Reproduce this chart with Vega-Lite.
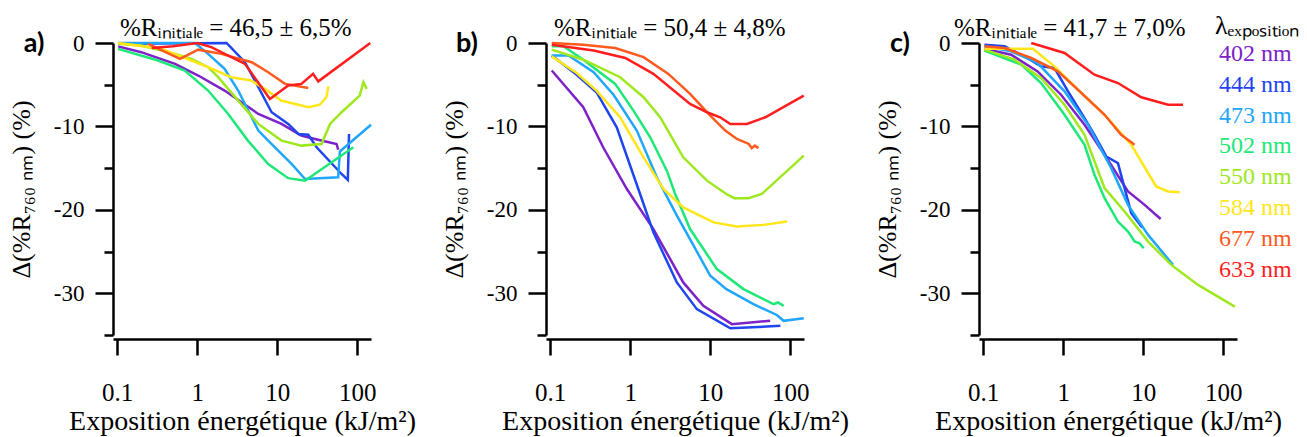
{
  "$schema": "https://vega.github.io/schema/vega-lite/v6.json",
  "background": "white",
  "padding": {"left": 8, "top": 13, "right": 0, "bottom": 0},
  "config": {
    "view": {"stroke": null},
    "font": "Liberation Serif",
    "axis": {"domainColor": "black", "domainWidth": 2.5, "tickColor": "black", "tickWidth": 2.5, "labelColor": "black", "titleColor": "black", "labelFont": "Liberation Serif", "titleFont": "Liberation Serif", "titleFontWeight": "normal", "grid": false},
    "title": {"font": "Liberation Serif", "fontSize": 25, "fontWeight": "normal", "color": "black", "anchor": "start", "frame": "group", "baseline": "alphabetic", "offset": -11},
    "legend": {"orient": "none", "legendX": 1102, "legendY": -30, "titleFont": "Liberation Serif", "titleFontSize": 26, "titleFontWeight": "normal", "titleColor": "black", "titlePadding": 3, "labelFont": "Liberation Serif", "labelFontSize": 24, "symbolSize": 0, "symbolOpacity": 0, "symbolStrokeWidth": 0, "labelOffset": -20, "rowPadding": 6.8, "padding": 0}
  },
  "datasets": {
    "labels": [{"p": "a", "lab": "a)"}, {"p": "b", "lab": "b)"}, {"p": "c", "lab": "c)"}],
    "curves": [
      {"p":"a","w":"402 nm","x":0.103,"y":-0.4},{"p":"a","w":"402 nm","x":0.2,"y":-1.1},{"p":"a","w":"402 nm","x":0.53,"y":-2.5},{"p":"a","w":"402 nm","x":1.03,"y":-3.9},{"p":"a","w":"402 nm","x":2.2,"y":-5.7},{"p":"a","w":"402 nm","x":5.8,"y":-8.5},{"p":"a","w":"402 nm","x":11.3,"y":-9.7},{"p":"a","w":"402 nm","x":20,"y":-11.1},{"p":"a","w":"402 nm","x":29.5,"y":-11.5},{"p":"a","w":"402 nm","x":55,"y":-12.1},{"p":"a","w":"402 nm","x":57.6,"y":-12.8},
      {"p":"a","w":"444 nm","x":0.103,"y":-0.1},{"p":"a","w":"444 nm","x":2.33,"y":0},{"p":"a","w":"444 nm","x":3.95,"y":-2.3},{"p":"a","w":"444 nm","x":5.25,"y":-4.5},{"p":"a","w":"444 nm","x":8.5,"y":-8.3},{"p":"a","w":"444 nm","x":13.7,"y":-9.7},{"p":"a","w":"444 nm","x":18.3,"y":-10.9},{"p":"a","w":"444 nm","x":24.4,"y":-11},{"p":"a","w":"444 nm","x":31,"y":-12.5},{"p":"a","w":"444 nm","x":63.5,"y":-15.7},{"p":"a","w":"444 nm","x":76,"y":-16.4},{"p":"a","w":"444 nm","x":78.7,"y":-10.9},
      {"p":"a","w":"473 nm","x":0.103,"y":0},{"p":"a","w":"473 nm","x":0.94,"y":0},{"p":"a","w":"473 nm","x":1.37,"y":-1.3},{"p":"a","w":"473 nm","x":2.2,"y":-3.1},{"p":"a","w":"473 nm","x":3.25,"y":-5.7},{"p":"a","w":"473 nm","x":5.8,"y":-10.5},{"p":"a","w":"473 nm","x":9.35,"y":-12.5},{"p":"a","w":"473 nm","x":15.1,"y":-14.5},{"p":"a","w":"473 nm","x":22.2,"y":-16.3},{"p":"a","w":"473 nm","x":57.6,"y":-16.1},{"p":"a","w":"473 nm","x":60.5,"y":-13},{"p":"a","w":"473 nm","x":148,"y":-9.8},
      {"p":"a","w":"502 nm","x":0.103,"y":-0.7},{"p":"a","w":"502 nm","x":0.325,"y":-2.1},{"p":"a","w":"502 nm","x":0.7,"y":-3.3},{"p":"a","w":"502 nm","x":1.37,"y":-5.7},{"p":"a","w":"502 nm","x":2.44,"y":-8.5},{"p":"a","w":"502 nm","x":4.3,"y":-11.7},{"p":"a","w":"502 nm","x":7.7,"y":-14.5},{"p":"a","w":"502 nm","x":13.7,"y":-16.2},{"p":"a","w":"502 nm","x":22.2,"y":-16.5},{"p":"a","w":"502 nm","x":89,"y":-12.5},
      {"p":"a","w":"550 nm","x":0.103,"y":-0.1},{"p":"a","w":"550 nm","x":0.2,"y":-0.3},{"p":"a","w":"550 nm","x":0.53,"y":-1.3},{"p":"a","w":"550 nm","x":0.85,"y":-1.9},{"p":"a","w":"550 nm","x":1.37,"y":-2.9},{"p":"a","w":"550 nm","x":1.83,"y":-4.1},{"p":"a","w":"550 nm","x":3.25,"y":-6.9},{"p":"a","w":"550 nm","x":5.8,"y":-9.7},{"p":"a","w":"550 nm","x":11.3,"y":-11.7},{"p":"a","w":"550 nm","x":20,"y":-12.3},{"p":"a","w":"550 nm","x":35.7,"y":-12.1},{"p":"a","w":"550 nm","x":45.6,"y":-9.7},{"p":"a","w":"550 nm","x":63.5,"y":-8.3},{"p":"a","w":"550 nm","x":107,"y":-6.3},{"p":"a","w":"550 nm","x":119,"y":-4.7},{"p":"a","w":"550 nm","x":131,"y":-5.5},
      {"p":"a","w":"584 nm","x":0.103,"y":0},{"p":"a","w":"584 nm","x":0.355,"y":-0.7},{"p":"a","w":"584 nm","x":0.58,"y":-1.5},{"p":"a","w":"584 nm","x":1.37,"y":-2.9},{"p":"a","w":"584 nm","x":2.66,"y":-4.1},{"p":"a","w":"584 nm","x":4.73,"y":-4.5},{"p":"a","w":"584 nm","x":7.0,"y":-5.5},{"p":"a","w":"584 nm","x":11.2,"y":-6.9},{"p":"a","w":"584 nm","x":24.4,"y":-7.7},{"p":"a","w":"584 nm","x":34,"y":-7.4},{"p":"a","w":"584 nm","x":41,"y":-6.5},{"p":"a","w":"584 nm","x":43.5,"y":-5.2},
      {"p":"a","w":"677 nm","x":0.245,"y":-0.1},{"p":"a","w":"677 nm","x":0.61,"y":-1.9},{"p":"a","w":"677 nm","x":1.03,"y":-0.8},{"p":"a","w":"677 nm","x":2.0,"y":-1.3},{"p":"a","w":"677 nm","x":4.8,"y":-2.3},{"p":"a","w":"677 nm","x":7.7,"y":-3.5},{"p":"a","w":"677 nm","x":12.5,"y":-4.9},{"p":"a","w":"677 nm","x":24.4,"y":-5.4},
      {"p":"a","w":"633 nm","x":0.27,"y":-0.6},{"p":"a","w":"633 nm","x":0.5,"y":-0.4},{"p":"a","w":"633 nm","x":1.0,"y":0},{"p":"a","w":"633 nm","x":1.5,"y":-0.5},{"p":"a","w":"633 nm","x":3.95,"y":-2.5},{"p":"a","w":"633 nm","x":8.1,"y":-6.7},{"p":"a","w":"633 nm","x":13.7,"y":-5.1},{"p":"a","w":"633 nm","x":20,"y":-4.9},{"p":"a","w":"633 nm","x":28,"y":-3.7},{"p":"a","w":"633 nm","x":32.5,"y":-4.6},{"p":"a","w":"633 nm","x":145,"y":0},

      {"p":"b","w":"402 nm","x":0.105,"y":-3.3},{"p":"b","w":"402 nm","x":0.26,"y":-7.7},{"p":"b","w":"402 nm","x":0.46,"y":-12.5},{"p":"b","w":"402 nm","x":0.91,"y":-17.5},{"p":"b","w":"402 nm","x":1.95,"y":-22.3},{"p":"b","w":"402 nm","x":4.6,"y":-28.7},{"p":"b","w":"402 nm","x":8.2,"y":-31.5},{"p":"b","w":"402 nm","x":18.6,"y":-33.7},{"p":"b","w":"402 nm","x":56,"y":-33.3},
      {"p":"b","w":"444 nm","x":0.105,"y":-1.5},{"p":"b","w":"444 nm","x":0.215,"y":-3.8},{"p":"b","w":"444 nm","x":0.38,"y":-5.9},{"p":"b","w":"444 nm","x":0.68,"y":-10.1},{"p":"b","w":"444 nm","x":1.33,"y":-18.1},{"p":"b","w":"444 nm","x":1.95,"y":-22.7},{"p":"b","w":"444 nm","x":3.83,"y":-28.7},{"p":"b","w":"444 nm","x":6.8,"y":-31.9},{"p":"b","w":"444 nm","x":17.8,"y":-34.2},{"p":"b","w":"444 nm","x":75,"y":-33.9},
      {"p":"b","w":"473 nm","x":0.105,"y":-1.5},{"p":"b","w":"473 nm","x":0.17,"y":-1.5},{"p":"b","w":"473 nm","x":0.35,"y":-3.5},{"p":"b","w":"473 nm","x":0.62,"y":-6.2},{"p":"b","w":"473 nm","x":1.21,"y":-10.5},{"p":"b","w":"473 nm","x":2.15,"y":-16.1},{"p":"b","w":"473 nm","x":3.83,"y":-20.7},{"p":"b","w":"473 nm","x":6.2,"y":-24.3},{"p":"b","w":"473 nm","x":10,"y":-27.9},{"p":"b","w":"473 nm","x":15.9,"y":-29.5},{"p":"b","w":"473 nm","x":34.6,"y":-31.3},{"p":"b","w":"473 nm","x":67.8,"y":-32.6},{"p":"b","w":"473 nm","x":82.5,"y":-33.3},{"p":"b","w":"473 nm","x":147,"y":-33.0},
      {"p":"b","w":"502 nm","x":0.105,"y":-0.4},{"p":"b","w":"502 nm","x":0.147,"y":-0.4},{"p":"b","w":"502 nm","x":0.26,"y":-2.0},{"p":"b","w":"502 nm","x":0.65,"y":-4.9},{"p":"b","w":"502 nm","x":1.1,"y":-8.1},{"p":"b","w":"502 nm","x":1.78,"y":-11.3},{"p":"b","w":"502 nm","x":2.87,"y":-15.3},{"p":"b","w":"502 nm","x":3.65,"y":-18.1},{"p":"b","w":"502 nm","x":5.6,"y":-22.3},{"p":"b","w":"502 nm","x":12.1,"y":-27.1},{"p":"b","w":"502 nm","x":26,"y":-29.5},{"p":"b","w":"502 nm","x":61.5,"y":-31.3},{"p":"b","w":"502 nm","x":70,"y":-31.1},{"p":"b","w":"502 nm","x":82.5,"y":-31.5},
      {"p":"b","w":"550 nm","x":0.105,"y":-0.8},{"p":"b","w":"550 nm","x":0.26,"y":-2.0},{"p":"b","w":"550 nm","x":0.75,"y":-4.1},{"p":"b","w":"550 nm","x":1.47,"y":-6.5},{"p":"b","w":"550 nm","x":2.37,"y":-8.9},{"p":"b","w":"550 nm","x":4.6,"y":-13.7},{"p":"b","w":"550 nm","x":9.1,"y":-16.5},{"p":"b","w":"550 nm","x":15.9,"y":-18.1},{"p":"b","w":"550 nm","x":20,"y":-18.6},{"p":"b","w":"550 nm","x":30,"y":-18.6},{"p":"b","w":"550 nm","x":44,"y":-18.1},{"p":"b","w":"550 nm","x":147,"y":-13.5},
      {"p":"b","w":"584 nm","x":0.105,"y":-1.6},{"p":"b","w":"584 nm","x":0.215,"y":-3.6},{"p":"b","w":"584 nm","x":0.38,"y":-5.7},{"p":"b","w":"584 nm","x":0.75,"y":-8.9},{"p":"b","w":"584 nm","x":1.47,"y":-13.7},{"p":"b","w":"584 nm","x":2.6,"y":-17.5},{"p":"b","w":"584 nm","x":4.6,"y":-19.7},{"p":"b","w":"584 nm","x":11,"y":-21.5},{"p":"b","w":"584 nm","x":21.5,"y":-22.0},{"p":"b","w":"584 nm","x":46.5,"y":-21.8},{"p":"b","w":"584 nm","x":91,"y":-21.4},
      {"p":"b","w":"677 nm","x":0.105,"y":0},{"p":"b","w":"677 nm","x":0.26,"y":-0.2},{"p":"b","w":"677 nm","x":0.65,"y":-0.6},{"p":"b","w":"677 nm","x":1.47,"y":-1.7},{"p":"b","w":"677 nm","x":3.0,"y":-3.7},{"p":"b","w":"677 nm","x":5.6,"y":-6.1},{"p":"b","w":"677 nm","x":10,"y":-8.7},{"p":"b","w":"677 nm","x":15.4,"y":-10.5},{"p":"b","w":"677 nm","x":21.5,"y":-11.5},{"p":"b","w":"677 nm","x":30.3,"y":-12.1},{"p":"b","w":"677 nm","x":33,"y":-12.6},{"p":"b","w":"677 nm","x":36,"y":-12.3},{"p":"b","w":"677 nm","x":40,"y":-12.6},
      {"p":"b","w":"633 nm","x":0.105,"y":-0.2},{"p":"b","w":"633 nm","x":0.35,"y":-0.9},{"p":"b","w":"633 nm","x":0.87,"y":-1.8},{"p":"b","w":"633 nm","x":1.95,"y":-3.7},{"p":"b","w":"633 nm","x":5.6,"y":-7.3},{"p":"b","w":"633 nm","x":9.1,"y":-8.3},{"p":"b","w":"633 nm","x":13.3,"y":-8.9},{"p":"b","w":"633 nm","x":17.8,"y":-9.7},{"p":"b","w":"633 nm","x":28.7,"y":-9.7},{"p":"b","w":"633 nm","x":48.7,"y":-8.9},{"p":"b","w":"633 nm","x":147,"y":-6.3},

      {"p":"c","w":"402 nm","x":0.104,"y":-0.7},{"p":"c","w":"402 nm","x":0.224,"y":-1.4},{"p":"c","w":"402 nm","x":0.48,"y":-3.4},{"p":"c","w":"402 nm","x":0.94,"y":-6.2},{"p":"c","w":"402 nm","x":1.85,"y":-9.8},{"p":"c","w":"402 nm","x":3.29,"y":-13.4},{"p":"c","w":"402 nm","x":6.45,"y":-17.8},{"p":"c","w":"402 nm","x":10.4,"y":-19.4},{"p":"c","w":"402 nm","x":16.5,"y":-21.1},
      {"p":"c","w":"444 nm","x":0.104,"y":-0.2},{"p":"c","w":"444 nm","x":0.185,"y":-0.4},{"p":"c","w":"444 nm","x":0.33,"y":-1.6},{"p":"c","w":"444 nm","x":0.53,"y":-2.8},{"p":"c","w":"444 nm","x":0.78,"y":-3.0},{"p":"c","w":"444 nm","x":1.15,"y":-5.8},{"p":"c","w":"444 nm","x":1.85,"y":-9.0},{"p":"c","w":"444 nm","x":2.46,"y":-11.0},{"p":"c","w":"444 nm","x":3.45,"y":-13.6},{"p":"c","w":"444 nm","x":4.83,"y":-14.4},{"p":"c","w":"444 nm","x":7.08,"y":-20.4},{"p":"c","w":"444 nm","x":9.7,"y":-22.1},
      {"p":"c","w":"473 nm","x":0.104,"y":-0.4},{"p":"c","w":"473 nm","x":0.224,"y":-1.0},{"p":"c","w":"473 nm","x":0.48,"y":-2.4},{"p":"c","w":"473 nm","x":1.04,"y":-5.8},{"p":"c","w":"473 nm","x":2.04,"y":-9.8},{"p":"c","w":"473 nm","x":3.98,"y":-15.0},{"p":"c","w":"473 nm","x":6.45,"y":-19.4},{"p":"c","w":"473 nm","x":11.5,"y":-23.0},{"p":"c","w":"473 nm","x":23.5,"y":-26.6},
      {"p":"c","w":"502 nm","x":0.104,"y":-0.9},{"p":"c","w":"502 nm","x":0.3,"y":-2.6},{"p":"c","w":"502 nm","x":0.53,"y":-4.8},{"p":"c","w":"502 nm","x":1.04,"y":-8.6},{"p":"c","w":"502 nm","x":1.85,"y":-12.2},{"p":"c","w":"502 nm","x":2.46,"y":-15.8},{"p":"c","w":"502 nm","x":3.29,"y":-18.6},{"p":"c","w":"502 nm","x":4.83,"y":-21.4},{"p":"c","w":"502 nm","x":6.45,"y":-22.6},{"p":"c","w":"502 nm","x":7.8,"y":-23.8},{"p":"c","w":"502 nm","x":9.0,"y":-24.0},{"p":"c","w":"502 nm","x":10.1,"y":-24.6},
      {"p":"c","w":"550 nm","x":0.104,"y":-0.8},{"p":"c","w":"550 nm","x":0.247,"y":-2.0},{"p":"c","w":"550 nm","x":0.53,"y":-4.2},{"p":"c","w":"550 nm","x":1.04,"y":-7.4},{"p":"c","w":"550 nm","x":1.85,"y":-11.0},{"p":"c","w":"550 nm","x":3.29,"y":-17.4},{"p":"c","w":"550 nm","x":5.85,"y":-20.2},{"p":"c","w":"550 nm","x":11.5,"y":-23.8},{"p":"c","w":"550 nm","x":22.4,"y":-26.6},{"p":"c","w":"550 nm","x":48.3,"y":-29.0},{"p":"c","w":"550 nm","x":139,"y":-31.6},
      {"p":"c","w":"584 nm","x":0.104,"y":-0.7},{"p":"c","w":"584 nm","x":0.42,"y":-0.7},{"p":"c","w":"584 nm","x":0.78,"y":-2.8},{"p":"c","w":"584 nm","x":1.53,"y":-5.6},{"p":"c","w":"584 nm","x":3.29,"y":-8.6},{"p":"c","w":"584 nm","x":7.08,"y":-12.2},{"p":"c","w":"584 nm","x":14.5,"y":-17.2},{"p":"c","w":"584 nm","x":20.4,"y":-17.8},{"p":"c","w":"584 nm","x":28.5,"y":-17.9},
      {"p":"c","w":"677 nm","x":0.104,"y":-0.4},{"p":"c","w":"677 nm","x":0.185,"y":-0.6},{"p":"c","w":"677 nm","x":0.4,"y":-1.8},{"p":"c","w":"677 nm","x":0.86,"y":-3.4},{"p":"c","w":"677 nm","x":1.53,"y":-5.6},{"p":"c","w":"677 nm","x":3.29,"y":-8.6},{"p":"c","w":"677 nm","x":5.3,"y":-11.0},{"p":"c","w":"677 nm","x":7.8,"y":-12.2},
      {"p":"c","w":"633 nm","x":0.4,"y":0},{"p":"c","w":"633 nm","x":1.04,"y":-1.2},{"p":"c","w":"633 nm","x":2.46,"y":-3.8},{"p":"c","w":"633 nm","x":4.83,"y":-4.8},{"p":"c","w":"633 nm","x":9.45,"y":-6.5},{"p":"c","w":"633 nm","x":20.4,"y":-7.4},{"p":"c","w":"633 nm","x":31.4,"y":-7.4}
    ]
  },
  "spacing": 175,
  "bounds": "flush",
  "hconcat": [
    {
      "width": 258, "height": 292,
      "title": {"text": "%Rᵢₙᵢₜᵢₐₗₑ = 46,5 ± 6,5%", "dx": 7},
      "layer": [
        {
          "data": {"name": "curves"},
          "transform": [{"filter": "datum.p === 'a'"}],
          "mark": {"type": "line", "strokeWidth": 2.5, "clip": false},
          "encoding": {
            "x": {"field": "x", "type": "quantitative", "scale": {"type": "log", "domain": [0.089, 148], "nice": false}, "axis": {"title": "Exposition énergétique (kJ/m²)", "values": [0.1, 1, 10, 100], "format": "~g", "offset": 4, "tickSize": 16, "labelFontSize": 25, "labelPadding": 25.5, "titleFontSize": 28, "titlePadding": 2}},
            "y": {"field": "y", "type": "quantitative", "scale": {"domain": [-35, 0], "nice": false, "zero": false}, "axis": {"title": "Δ(%R₇₆₀ ₙₘ) (%)", "values": [-35, -30, -25, -20, -15, -10, -5, 0], "labelExpr": "datum.value % 10 === 0 ? '' + datum.value : ''", "tickSize": {"condition": {"test": "datum.value % 10 === 0", "value": 18}, "value": 9}, "labelFontSize": 23, "labelPadding": 11, "titleFontSize": 26, "titlePadding": 19}},
            "color": {"field": "w", "type": "nominal", "scale": {"domain": ["402 nm", "444 nm", "473 nm", "502 nm", "550 nm", "584 nm", "677 nm", "633 nm"], "range": ["#7d22c8", "#1f45f0", "#20a6fa", "#1ee878", "#9ee81e", "#ffe619", "#ff5a1e", "#ff1e1e"]},
              "legend": {"title": "λₑₓₚₒₛᵢₜᵢₒₙ", "labelColor": {"expr": "datum.value === '402 nm' ? '#7d22c8' : datum.value === '444 nm' ? '#1f45f0' : datum.value === '473 nm' ? '#20a6fa' : datum.value === '502 nm' ? '#1ee878' : datum.value === '550 nm' ? '#9ee81e' : datum.value === '584 nm' ? '#ffe619' : datum.value === '677 nm' ? '#ff5a1e' : '#ff1e1e'"}}}
          }
        },
        {
          "data": {"name": "labels"},
          "transform": [{"filter": "datum.p === 'a'"}],
          "mark": {"type": "text", "font": "Lato", "fontWeight": "bold", "fontSize": 27, "align": "center", "baseline": "alphabetic", "dx": -83, "dy": 9, "color": "black"},
          "encoding": {"x": {"datum": 0.1, "type": "quantitative"}, "y": {"datum": 0, "type": "quantitative"}, "text": {"field": "lab"}}
        }
      ]
    },
    {
      "width": 258, "height": 292,
      "title": {"text": "%Rᵢₙᵢₜᵢₐₗₑ = 50,4 ± 4,8%", "dx": 8},
      "layer": [
        {
          "data": {"name": "curves"},
          "transform": [{"filter": "datum.p === 'b'"}],
          "mark": {"type": "line", "strokeWidth": 2.5, "clip": false},
          "encoding": {
            "x": {"field": "x", "type": "quantitative", "scale": {"type": "log", "domain": [0.089, 148], "nice": false}, "axis": {"title": "Exposition énergétique (kJ/m²)", "values": [0.1, 1, 10, 100], "format": "~g", "offset": 4, "tickSize": 16, "labelFontSize": 25, "labelPadding": 25.5, "titleFontSize": 28, "titlePadding": 2}},
            "y": {"field": "y", "type": "quantitative", "scale": {"domain": [-35, 0], "nice": false, "zero": false}, "axis": {"title": "Δ(%R₇₆₀ ₙₘ) (%)", "values": [-35, -30, -25, -20, -15, -10, -5, 0], "labelExpr": "datum.value % 10 === 0 ? '' + datum.value : ''", "tickSize": {"condition": {"test": "datum.value % 10 === 0", "value": 18}, "value": 9}, "labelFontSize": 23, "labelPadding": 11, "titleFontSize": 26, "titlePadding": 19}},
            "color": {"field": "w", "type": "nominal", "scale": {"domain": ["402 nm", "444 nm", "473 nm", "502 nm", "550 nm", "584 nm", "677 nm", "633 nm"], "range": ["#7d22c8", "#1f45f0", "#20a6fa", "#1ee878", "#9ee81e", "#ffe619", "#ff5a1e", "#ff1e1e"]},
              "legend": {"title": "λₑₓₚₒₛᵢₜᵢₒₙ", "labelColor": {"expr": "datum.value === '402 nm' ? '#7d22c8' : datum.value === '444 nm' ? '#1f45f0' : datum.value === '473 nm' ? '#20a6fa' : datum.value === '502 nm' ? '#1ee878' : datum.value === '550 nm' ? '#9ee81e' : datum.value === '584 nm' ? '#ffe619' : datum.value === '677 nm' ? '#ff5a1e' : '#ff1e1e'"}}}
          }
        },
        {
          "data": {"name": "labels"},
          "transform": [{"filter": "datum.p === 'b'"}],
          "mark": {"type": "text", "font": "Lato", "fontWeight": "bold", "fontSize": 27, "align": "center", "baseline": "alphabetic", "dx": -83, "dy": 9, "color": "black"},
          "encoding": {"x": {"datum": 0.1, "type": "quantitative"}, "y": {"datum": 0, "type": "quantitative"}, "text": {"field": "lab"}}
        }
      ]
    },
    {
      "width": 258, "height": 292,
      "title": {"text": "%Rᵢₙᵢₜᵢₐₗₑ = 41,7 ± 7,0%", "dx": -25},
      "layer": [
        {
          "data": {"name": "curves"},
          "transform": [{"filter": "datum.p === 'c'"}],
          "mark": {"type": "line", "strokeWidth": 2.5, "clip": false},
          "encoding": {
            "x": {"field": "x", "type": "quantitative", "scale": {"type": "log", "domain": [0.089, 148], "nice": false}, "axis": {"title": "Exposition énergétique (kJ/m²)", "values": [0.1, 1, 10, 100], "format": "~g", "offset": 4, "tickSize": 16, "labelFontSize": 25, "labelPadding": 25.5, "titleFontSize": 28, "titlePadding": 2}},
            "y": {"field": "y", "type": "quantitative", "scale": {"domain": [-35, 0], "nice": false, "zero": false}, "axis": {"title": "Δ(%R₇₆₀ ₙₘ) (%)", "values": [-35, -30, -25, -20, -15, -10, -5, 0], "labelExpr": "datum.value % 10 === 0 ? '' + datum.value : ''", "tickSize": {"condition": {"test": "datum.value % 10 === 0", "value": 18}, "value": 9}, "labelFontSize": 23, "labelPadding": 11, "titleFontSize": 26, "titlePadding": 19}},
            "color": {"field": "w", "type": "nominal", "scale": {"domain": ["402 nm", "444 nm", "473 nm", "502 nm", "550 nm", "584 nm", "677 nm", "633 nm"], "range": ["#7d22c8", "#1f45f0", "#20a6fa", "#1ee878", "#9ee81e", "#ffe619", "#ff5a1e", "#ff1e1e"]},
              "legend": {"title": "λₑₓₚₒₛᵢₜᵢₒₙ", "labelColor": {"expr": "datum.value === '402 nm' ? '#7d22c8' : datum.value === '444 nm' ? '#1f45f0' : datum.value === '473 nm' ? '#20a6fa' : datum.value === '502 nm' ? '#1ee878' : datum.value === '550 nm' ? '#9ee81e' : datum.value === '584 nm' ? '#ffe619' : datum.value === '677 nm' ? '#ff5a1e' : '#ff1e1e'"}}}
          }
        },
        {
          "data": {"name": "labels"},
          "transform": [{"filter": "datum.p === 'c'"}],
          "mark": {"type": "text", "font": "Lato", "fontWeight": "bold", "fontSize": 27, "align": "center", "baseline": "alphabetic", "dx": -83, "dy": 9, "color": "black"},
          "encoding": {"x": {"datum": 0.1, "type": "quantitative"}, "y": {"datum": 0, "type": "quantitative"}, "text": {"field": "lab"}}
        }
      ]
    }
  ]
}
